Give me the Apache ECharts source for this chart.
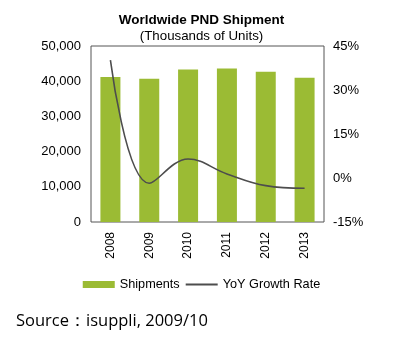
<!DOCTYPE html>
<html>
<head>
<meta charset="utf-8">
<script src="https://cdn.jsdelivr.net/npm/echarts@6/dist/echarts.min.js"></script>
<style>
  html, body { margin: 0; padding: 0; background: #fff; }
  #chart { width: 403px; height: 344px; }
</style>
</head>
<body>
<div id="chart"></div>
<script>
// Worldwide PND shipments (thousands of units) and year-over-year growth
const years = ['2008', '2009', '2010', '2011', '2012', '2013'];
const shipments = [41200, 40700, 43300, 43600, 42700, 41000];
const yoyGrowth = [40.2, -1.8, 6.5, 1.4, -2.6, -3.5];
const leftTicks = [0, 10000, 20000, 30000, 40000, 50000];
const rightTicks = [-15, 0, 15, 30, 45];

const font = 'Liberation Sans, Arial, sans-serif';
const chart = echarts.init(document.getElementById('chart'), null, { renderer: 'canvas' });

chart.setOption({
  animation: false,
  title: [
    {
      text: 'Worldwide PND Shipment',
      left: 'center', top: 8,
      textStyle: { fontFamily: font, fontSize: 13.5, fontWeight: 'bold', color: '#000' }
    },
    {
      text: '(Thousands of Units)',
      left: 'center', top: 25,
      textStyle: { fontFamily: font, fontSize: 13.3, fontWeight: 'normal', color: '#000' }
    },
    {
      text: 'Source\uFF1Aisuppli, 2009/10',
      left: 11, top: 308,
      textStyle: { fontFamily: 'Open Sans, Noto Sans, sans-serif', fontSize: 16.5, fontWeight: 'normal', color: '#000' }
    }
  ],
  legend: {
    top: 273, left: 'center',
    itemWidth: 32, itemHeight: 7, itemGap: 6,
    textStyle: { fontFamily: font, fontSize: 12.7, color: '#000' },
    data: [
      { name: 'Shipments', icon: 'rect' },
      { name: 'YoY Growth Rate', icon: 'path://M0,0 L33,0 L33,2 L0,2 Z', itemStyle: { color: '#4d4d4d' } }
    ]
  },
  grid: { left: 91, right: 79, top: 46, bottom: 122, show: true, borderColor: '#555', borderWidth: 1 },
  xAxis: {
    type: 'category',
    data: years,
    axisLine: { show: false },
    axisTick: { show: false },
    axisLabel: { rotate: 90, margin: 10, fontFamily: font, fontSize: 12, color: '#000' }
  },
  yAxis: [
    {
      type: 'value', min: 0, max: 50000, interval: 10000,
      splitLine: { show: false },
      axisLine: { show: false },
      axisTick: { show: false },
      axisLabel: {
        margin: 10, fontFamily: font, fontSize: 13, color: '#000',
        formatter: v => leftTicks.includes(v) ? v.toLocaleString('en-US') : ''
      }
    },
    {
      type: 'value', min: -15, max: 45, interval: 15,
      splitLine: { show: false },
      axisLine: { show: false },
      axisTick: { show: false },
      axisLabel: {
        margin: 9, fontFamily: font, fontSize: 13, color: '#000',
        formatter: v => rightTicks.includes(v) ? v + '%' : ''
      }
    }
  ],
  series: [
    {
      name: 'Shipments',
      type: 'bar',
      data: shipments,
      barWidth: 20,
      itemStyle: { color: '#9bbb34' }
    },
    {
      name: 'YoY Growth Rate',
      type: 'line',
      yAxisIndex: 1,
      data: yoyGrowth,
      smooth: 0.4,
      showSymbol: false,
      lineStyle: { color: '#4d4d4d', width: 1.6 },
      itemStyle: { color: '#4d4d4d' }
    }
  ]
});
</script>
</body>
</html>
